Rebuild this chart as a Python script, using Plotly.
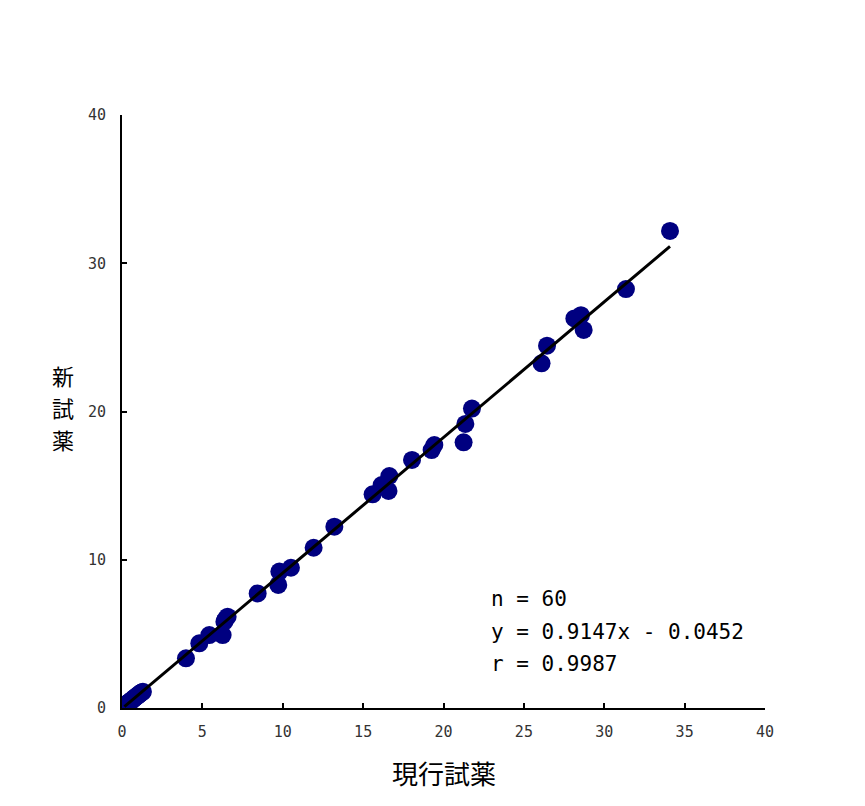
import plotly.graph_objects as go

# current reagent (x) vs new reagent (y)
current = [0.15, 0.18, 0.2, 0.22, 0.25, 0.28, 0.3, 0.32, 0.35, 0.38, 0.4, 0.42, 0.45, 0.5, 0.55,
           0.6, 0.65, 0.7, 0.75, 0.8, 0.85, 0.9, 0.95, 1.0, 1.05, 1.1, 1.15, 1.2, 1.25, 1.3,
           3.98, 4.81, 5.43, 6.26, 6.37, 6.57, 8.44,
           9.72, 9.79, 10.51, 11.92, 13.21, 15.59, 16.15, 16.58, 16.63, 18.04, 19.26, 19.43,
           21.25, 21.36, 21.77, 26.1, 26.44, 28.14, 28.55, 28.72, 31.35, 34.09, 6.45]
new = [0.1, 0.12, 0.15, 0.17, 0.2, 0.22, 0.25, 0.27, 0.3, 0.32, 0.35, 0.37, 0.4, 0.43, 0.47,
       0.52, 0.56, 0.6, 0.65, 0.7, 0.74, 0.78, 0.82, 0.86, 0.9, 0.95, 0.99, 1.03, 1.07, 1.1,
       3.35, 4.36, 4.92, 4.92, 5.82, 6.16, 7.73,
       8.3, 9.2, 9.46, 10.81, 12.23, 14.41, 15.04, 14.64, 15.65, 16.73, 17.4, 17.74,
       17.92, 19.16, 20.2, 23.25, 24.44, 26.28, 26.5, 25.5, 28.26, 32.18, 6.0]

slope = 0.9147
intercept = -0.0452
x_ticks = [0, 5, 10, 15, 20, 25, 30, 35, 40]
y_ticks = [0, 10, 20, 30, 40]
stats = ["n = 60", "y = 0.9147x - 0.0452", "r = 0.9987"]
x_title = "現行試薬"
y_title_chars = ["新", "試", "薬"]

xmin, xmax = min(current), max(current)
line_x = [xmin, xmax]
line_y = [slope * v + intercept for v in line_x]

cjk = "Noto Sans CJK JP"
mono = "DejaVu Sans Mono"

fig = go.Figure()
fig.add_trace(go.Scatter(x=current, y=new, mode="markers",
                         marker=dict(color="#000080", size=18, line=dict(width=0)),
                         showlegend=False, hoverinfo="skip"))
fig.add_trace(go.Scatter(x=line_x, y=line_y, mode="lines",
                         line=dict(color="black", width=3), showlegend=False))

axis_common = dict(showgrid=False, zeroline=False, showline=True, linecolor="black",
                   linewidth=2, ticks="inside", ticklen=5, tickwidth=2, tickcolor="black",
                   tickfont=dict(family=mono, size=15, color="#333"))

fig.update_xaxes(range=[0, 40], tickvals=x_ticks, ticklabelstandoff=9, **axis_common)
fig.update_yaxes(range=[0, 40], tickvals=y_ticks, ticklabelstandoff=11, **axis_common)

for i, t in enumerate(stats):
    fig.add_annotation(x=22.83, y=[7.35, 5.13, 2.97][i], text=t, showarrow=False,
                       xanchor="left", yanchor="middle",
                       font=dict(family=mono, size=21, color="black"))

fig.add_annotation(xref="paper", yref="paper", x=0.5, y=-0.1096, text=x_title,
                   showarrow=False, xanchor="center", yanchor="middle",
                   font=dict(family=cjk, size=26, color="black"))
for i, ch in enumerate(y_title_chars):
    fig.add_annotation(xref="paper", yref="paper", x=-0.0918,
                       y=[0.5616, 0.5076, 0.4536][i], text=ch,
                       showarrow=False, xanchor="center", yanchor="middle",
                       font=dict(family=cjk, size=22, color="black"))

fig.update_layout(width=865, height=806, plot_bgcolor="white", paper_bgcolor="white",
                  margin=dict(l=114, r=108, t=107, b=106, autoexpand=False))

fig.write_html("out.html")
